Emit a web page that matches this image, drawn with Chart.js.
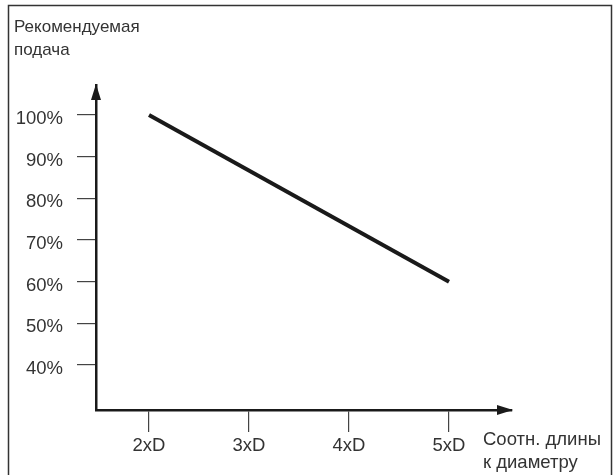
<!DOCTYPE html>
<html><head><meta charset="utf-8">
<script src="https://cdn.jsdelivr.net/npm/chart.js@4.4.1/dist/chart.umd.min.js"></script>
<style>
html,body{margin:0;padding:0;background:#fff;}
#wrap{position:relative;width:616px;height:475px;}
</style></head>
<body><div id="wrap"><canvas id="c" width="616" height="475"></canvas></div>
<script>
// Data
const ratioValues = [2, 5];            // length-to-diameter ratio (xD)
const feedValues = [100, 60];          // recommended feed, %
const xTickValues = [2, 3, 4, 5];
const xTickLabels = ['2xD', '3xD', '4xD', '5xD'];
const yTickValues = [40, 50, 60, 70, 80, 90, 100];
const yAxisTitle = ['Рекомендуемая', 'подача'];
const xAxisTitle = ['Соотн. длины', 'к диаметру'];

const FONT = '"Liberation Sans", Arial, sans-serif';
const TXT = '#333333';

const decor = {
  id: 'decor',
  beforeDraw(chart) {
    const ctx = chart.ctx;
    ctx.save();
    ctx.fillStyle = '#fff';
    ctx.fillRect(0, 0, chart.width, chart.height);
    ctx.strokeStyle = '#333';
    ctx.lineWidth = 1.5;
    ctx.strokeRect(8.5, 5.5, 603, 480);
    ctx.restore();
  },
  afterDraw(chart) {
    const ctx = chart.ctx;
    const a = chart.chartArea;
    ctx.save();
    ctx.fillStyle = '#1a1a1a';
    // y arrow
    ctx.beginPath();
    ctx.moveTo(a.left, a.top - 1);
    ctx.lineTo(a.left - 5, a.top + 15);
    ctx.lineTo(a.left + 5, a.top + 15);
    ctx.closePath(); ctx.fill();
    // x arrow
    ctx.beginPath();
    ctx.moveTo(a.right + 1, a.bottom);
    ctx.lineTo(a.right - 15, a.bottom - 5);
    ctx.lineTo(a.right - 15, a.bottom + 5);
    ctx.closePath(); ctx.fill();
    ctx.fillStyle = TXT;
    ctx.textBaseline = 'middle';
    ctx.textAlign = 'left';
    ctx.font = '17px ' + FONT;
    ctx.fillText(yAxisTitle[0], 14, 27);
    ctx.fillText(yAxisTitle[1], 14, 50);
    ctx.font = '18.5px ' + FONT;
    ctx.fillText(xAxisTitle[0], 483, 440);
    ctx.fillText(xAxisTitle[1], 483, 463);
    ctx.restore();
  }
};

new Chart(document.getElementById('c'), {
  type: 'line',
  data: {
    datasets: [{
      data: ratioValues.map((x, i) => ({x: x, y: feedValues[i]})),
      borderColor: '#1a1a1a',
      borderWidth: 4,
      pointRadius: 0,
      borderCapStyle: 'butt',
      tension: 0
    }]
  },
  options: {
    responsive: false,
    animation: false,
    events: [],
    layout: {padding: {top: 85, right: 104, left: 0, bottom: 0}},
    plugins: {legend: {display: false}, tooltip: {enabled: false}},
    scales: {
      x: {
        type: 'linear',
        min: 1.47, max: 5.63,
        afterFit(s) { s.height = 65; },
        afterBuildTicks(s) { s.ticks = xTickValues.map(v => ({value: v})); },
        border: {display: true, color: '#1a1a1a', width: 2.5},
        grid: {drawOnChartArea: false, drawTicks: true, tickLength: 22, color: '#444', lineWidth: 1.2},
        ticks: {
          padding: 3,
          color: TXT,
          font: {family: FONT, size: 18.5},
          callback(v) { const i = xTickValues.indexOf(v); return i >= 0 ? xTickLabels[i] : ''; }
        }
      },
      y: {
        type: 'linear',
        min: 29.2, max: 107.2,
        afterFit(s) { s.width = 96; },
        afterBuildTicks(s) { s.ticks = yTickValues.map(v => ({value: v})); },
        border: {display: true, color: '#1a1a1a', width: 2.5},
        grid: {drawOnChartArea: false, drawTicks: true, tickLength: 19, color: '#444', lineWidth: 1.2},
        ticks: {
          padding: 14,
          labelOffset: 4,
          color: TXT,
          font: {family: FONT, size: 18.5},
          callback(v) { return v + '%'; }
        }
      }
    }
  },
  plugins: [decor]
});
</script>
</body></html>
